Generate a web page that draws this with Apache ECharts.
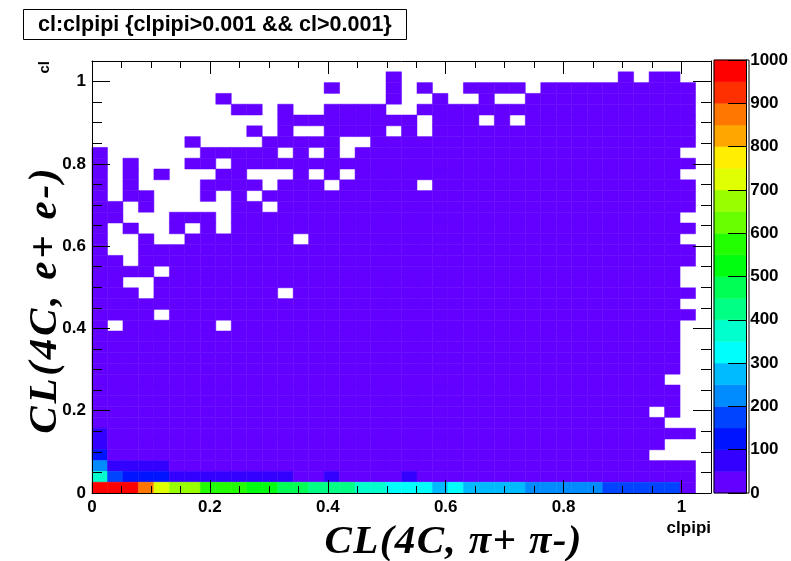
<!DOCTYPE html>
<html>
<head>
<meta charset="utf-8">
<script src="https://cdn.jsdelivr.net/npm/echarts@6/dist/echarts.min.js"></script>
<style>
  html, body { margin: 0; padding: 0; background: #ffffff; }
  #chart { width: 791px; height: 561px; }
</style>
</head>
<body>
<div id="chart"></div>
<script>
// cl vs clpipi, 40 x 40 bins over [0, 1.05] on both axes
const xRange = [0, 1.05];
const yRange = [0, 1.05];
const nBinsX = 40;
const nBinsY = 40;

// Filled bins, highest cl bin first, in groups of ten clpipi bins:
// '#' = entries, '.' = empty
const occupancy = [
  ".......... .......... .......... ..........",
  ".......... .........# .......... ....#.##..",
  ".......... .....#...# .#..####.# #########.",
  "........#. .........# ..#..#..## #########.",
  ".........# #.#..####. .######### #########.",
  ".......... ..######## #.###.#.## #########.",
  ".......... #.#..####. #.######## #########.",
  "......#... .#####..## ########## #########.",
  "#......### ##.#.#.### ########## ########..",
  "#.#...##.# ########## ########## #########.",
  "#.#.#...## ...#.#.### ########## ########..",
  "#.#....### #.###.#### #.######## #########.",
  "#.##...#.# .######### ########## #########.",
  "##.#.....# #.######## ########## #########.",
  "##...###.# ########## ########## ########..",
  "#.#..#.#.# ########## ########## #########.",
  "#..#..#### ###.###### ########## ########..",
  "#..####### ########## ########## #########.",
  "##.####### ########## ########## #########.",
  "####.##### ########## ########## ########..",
  "##..###### ########## ########## ########..",
  "###.###### ##.####### ########## #########.",
  "########## ########## ########## ########..",
  "####.##### ########## ########## #########.",
  "#.######.# ########## ########## ########..",
  "########## ########## ########## ########..",
  "########## ########## ########## ########..",
  "########## ########## ########## ########..",
  "########## ########## ########## ########..",
  "########## ########## ########## #######...",
  "########## ########## ########## ########..",
  "########## ########## ########## ########..",
  "########## ########## ########## ######.#..",
  "########## ########## ########## #######...",
  "########## ########## ########## #########.",
  "########## ########## ########## #######...",
  "########## ########## ########## ######....",
  "########## ########## ########## #########.",
  "########## ########## ########## #########.",
  "########## ########## ########## #########."
];

// Counts in the lowest cl bin (clpipi bins 0..38)
const bottomRowCounts = [
  990, 975, 960, 870, 720, 670, 665, 580, 575, 570,
  530, 520, 470, 465, 430, 425, 420, 380, 370, 330,
  320, 315, 290, 310, 285, 280, 275, 270, 240, 235,
  230, 225, 220, 190, 185, 180, 175, 170, 30
];

// Other bins above the first contour: [clpipi bin, cl bin, count]
const lowBinCounts = [
  [0, 1, 370], [1, 1, 170], [2, 1, 120], [3, 1, 115], [4, 1, 110],
  [5, 1, 75], [6, 1, 70], [7, 1, 70], [8, 1, 65], [9, 1, 65],
  [10, 1, 60], [11, 1, 60], [12, 1, 55], [15, 1, 55], [20, 1, 55],
  [0, 2, 230], [1, 2, 75], [2, 2, 70], [3, 2, 65], [4, 2, 60],
  [0, 3, 110], [0, 4, 80], [0, 5, 70]
];

// Typical content of the remaining filled bins (all below the first contour)
const sparseCount = 20;

// Colour contours of the z axis
const contourLevels = [0, 50, 100, 150, 200, 250, 300, 350, 400, 450, 500,
                       550, 600, 650, 700, 750, 800, 850, 900, 950, 1000];
const palette = [
  "#6300ff", "#3300ff", "#0014ff", "#0044ff", "#008bff",
  "#00bbff", "#00fffc", "#00ffcc", "#00ff85", "#00ff55",
  "#00ff0e", "#22ff00", "#69ff00", "#99ff00", "#e0ff00",
  "#ffee00", "#ffa700", "#ff7700", "#ff3000", "#ff0000"
];

const titleText = "cl:clpipi {clpipi>0.001 && cl>0.001}";
const xTitle = "CL(4C, \u03c0+ \u03c0-)";
const yTitle = "CL(4C, e+ e-)";

// ---- build the cell list from the tables above ----
const dx = (xRange[1] - xRange[0]) / nBinsX;
const dy = (yRange[1] - yRange[0]) / nBinsY;
const countAt = {};
bottomRowCounts.forEach((c, i) => { countAt[i + ",0"] = c; });
lowBinCounts.forEach(([i, j, c]) => { countAt[i + "," + j] = c; });

const cells = [];
occupancy.forEach((line, r) => {
  const row = line.replace(/ /g, "");
  const j = nBinsY - 1 - r;
  for (let i = 0; i < nBinsX; i++) {
    if (row[i] !== "#") continue;
    const key = i + "," + j;
    const c = key in countAt ? countAt[key] : sparseCount;
    cells.push([xRange[0] + i * dx, xRange[0] + (i + 1) * dx,
                yRange[0] + j * dy, yRange[0] + (j + 1) * dy, c]);
  }
});

function colorFor(v) {
  for (let k = contourLevels.length - 2; k >= 0; k--) {
    if (v >= contourLevels[k]) return palette[k];
  }
  return palette[0];
}

const paletteBands = palette.map((col, k) => [contourLevels[k], contourLevels[k + 1], k]);

// Latex-style axis titles: bold italic serif with slightly loose letter spacing
function spacedRich(str, size, gap) {
  return {
    text: Array.from(str).map(ch => "{n|" + ch + "}").join(""),
    rich: {
      n: { fontFamily: "Liberation Serif", fontStyle: "italic", fontWeight: "bold",
           fontSize: size, fill: "#000", padding: [0, gap, 0, gap] }
    }
  };
}

const labelFont = { fontFamily: "Liberation Sans", fontWeight: "bold", fontSize: 17, color: "#000" };
const black = { color: "#000", width: 1 };

function valueAxis(extra) {
  return Object.assign({
    type: "value", min: 0, max: 1.05, z: 10,
    axisLine: { show: true, onZero: false, lineStyle: black },
    axisTick: { show: true, inside: true, lineStyle: black },
    splitLine: { show: false },
    axisLabel: { show: false }
  }, extra);
}

const chart = echarts.init(document.getElementById("chart"), null, { renderer: "canvas" });

const xRich = spacedRich(xTitle, 41, 0.7);
const yRich = spacedRich(yTitle, 41, 1.4);

chart.setOption({
  animation: false,
  backgroundColor: "#ffffff",
  title: {
    text: titleText,
    left: 23, top: 9,
    padding: [5, 15, 4, 15],
    borderColor: "#000", borderWidth: 1,
    textStyle: { fontFamily: "Liberation Sans", fontWeight: "bold", fontSize: 21.5,
                 lineHeight: 22, color: "#000" }
  },
  grid: [
    { left: 92, top: 61, width: 619, height: 432 },
    { left: 714, top: 60, width: 35, height: 433 }
  ],
  xAxis: [
    valueAxis({ position: "bottom", interval: 0.2,
      axisTick: { show: true, inside: true, length: 13, lineStyle: black },
      axisLabel: Object.assign({ show: true, margin: 6, showMaxLabel: false }, labelFont) }),
    valueAxis({ position: "bottom", interval: 0.05, axisLine: { show: false, onZero: false },
      axisTick: { show: true, inside: true, length: 7, lineStyle: black } }),
    valueAxis({ position: "top", interval: 0.2,
      axisTick: { show: true, inside: true, length: 13, lineStyle: black } }),
    valueAxis({ position: "top", interval: 0.05, axisLine: { show: false, onZero: false },
      axisTick: { show: true, inside: true, length: 7, lineStyle: black } }),
    { type: "value", gridIndex: 1, min: 0, max: 1, show: false }
  ],
  yAxis: [
    valueAxis({ position: "left", interval: 0.2,
      axisTick: { show: true, inside: true, length: 18, lineStyle: black },
      axisLabel: Object.assign({ show: true, margin: 6, showMaxLabel: false }, labelFont) }),
    valueAxis({ position: "left", interval: 0.05, axisLine: { show: false, onZero: false },
      axisTick: { show: true, inside: true, length: 10, lineStyle: black } }),
    valueAxis({ position: "right", interval: 0.2,
      axisTick: { show: true, inside: true, length: 18, lineStyle: black } }),
    valueAxis({ position: "right", interval: 0.05, axisLine: { show: false, onZero: false },
      axisTick: { show: true, inside: true, length: 10, lineStyle: black } }),
    { type: "value", gridIndex: 1, position: "right", min: 0, max: 1000, interval: 100, z: 10,
      axisLine: { show: true, onZero: false, lineStyle: black },
      axisTick: { show: true, inside: true, length: 18, lineStyle: black },
      splitLine: { show: false },
      axisLabel: Object.assign({ show: true, margin: 4, formatter: v => String(v) }, labelFont) }
  ],
  series: [
    {
      type: "custom",
      name: "cl:clpipi",
      xAxisIndex: 0, yAxisIndex: 0,
      data: cells,
      encode: { x: [0, 1], y: [2, 3] },
      renderItem: function (params, api) {
        const p0 = api.coord([api.value(0), api.value(3)]);
        const p1 = api.coord([api.value(1), api.value(2)]);
        const col = colorFor(api.value(4));
        return {
          type: "rect",
          shape: { x: p0[0], y: p0[1], width: p1[0] - p0[0], height: p1[1] - p0[1] },
          style: { fill: col, stroke: col, lineWidth: 0.5 }
        };
      }
    },
    {
      type: "custom",
      name: "palette",
      xAxisIndex: 4, yAxisIndex: 4,
      data: paletteBands,
      encode: { y: [0, 1] },
      renderItem: function (params, api) {
        const p0 = api.coord([0, api.value(1)]);
        const p1 = api.coord([1, api.value(0)]);
        const col = palette[api.value(2)];
        return {
          type: "rect",
          shape: { x: p0[0], y: p0[1], width: p1[0] - p0[0], height: p1[1] - p0[1] },
          style: { fill: col, stroke: col, lineWidth: 0.5 }
        };
      }
    }
  ],
  graphic: [
    { type: "rect", shape: { x: 714, y: 60, width: 35, height: 433 }, z: 20,
      style: { fill: "none", stroke: "#000", lineWidth: 1 } },
    { type: "text", x: 453, y: 542, z: 20,
      style: { text: xRich.text, rich: xRich.rich, align: "center", verticalAlign: "middle" } },
    { type: "text", x: 45, y: 301, rotation: Math.PI / 2, z: 20,
      style: { text: yRich.text, rich: yRich.rich, align: "center", verticalAlign: "middle" } },
    { type: "text", x: 711, y: 528, z: 20,
      style: { text: "clpipi", font: "bold 17px 'Liberation Sans'", fill: "#000",
               align: "right", verticalAlign: "middle" } },
    { type: "text", x: 45, y: 61, rotation: Math.PI / 2, z: 20,
      style: { text: "cl", font: "bold 15px 'Liberation Sans'", fill: "#000",
               align: "right", verticalAlign: "middle" } }
  ]
});
</script>
</body>
</html>
